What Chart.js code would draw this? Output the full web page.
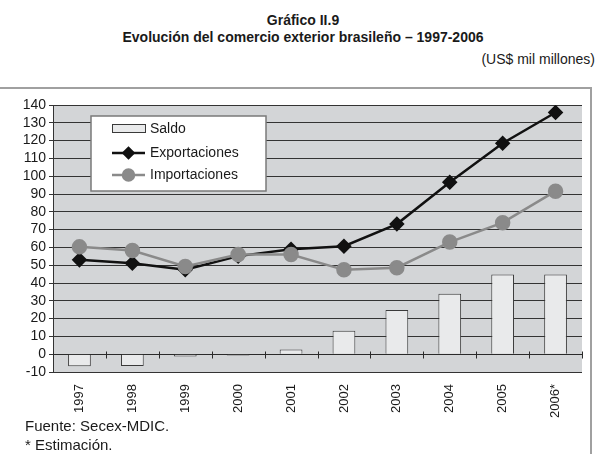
<!DOCTYPE html>
<html lang="es">
<head>
    <meta charset="UTF-8">
    <title>Evolución del comercio exterior brasileño</title>
    <style>
        body {
            margin: 0;
            padding: 0;
            background: #fff;
            font-family: "Liberation Sans", Arial, sans-serif;
            color: #1a1a1a;
        }

        .page {
            position: relative;
            width: 599px;
            height: 454px;
            overflow: hidden;
        }

        .frame {
            position: absolute;
            top: 87px;
            left: -3px;
            width: 593px;
            height: 400px;
            border-top: 2px solid #a0a0a0;
            border-right: 2px solid #a0a0a0;
        }

        .title {
            position: absolute;
            left: 0;
            width: 606px;
            text-align: center;
            font-weight: bold;
            font-size: 14px;
            line-height: 16px;
        }

        .units {
            position: absolute;
            top: 51px;
            right: 4px;
            font-size: 14px;
            line-height: 16px;
        }

        .note {
            position: absolute;
            left: 25px;
            font-size: 15px;
            line-height: 16px;
        }

        canvas {
            position: absolute;
            top: 0;
            left: 0;
        }
    </style>
</head>
<body>

<div class="page">
    <div class="frame"></div>
    <div class="title" style="top: 12px;">Gráfico II.9</div>
    <div class="title" style="top: 29px;">Evolución del comercio exterior brasileño – 1997-2006</div>
    <div class="units">(US$ mil millones)</div>

    <canvas id="tradeChart" width="599" height="454"></canvas>

    <div class="note" style="top: 418px;">Fuente: Secex-MDIC.</div>
    <div class="note" style="top: 437px;">* Estimación.</div>
</div>

<script src="https://cdn.jsdelivr.net/npm/chart.js"></script>
<script>
    // values (US$ bn)
    const years = ['1997', '1998', '1999', '2000', '2001', '2002', '2003', '2004', '2005', '2006*'];
    const saldo = [-6.8, -6.6, -1.3, -0.7, 2.6, 13.2, 24.8, 33.9, 44.8, 44.8];
    const exportaciones = [53.0, 51.1, 47.5, 55.1, 59.0, 60.7, 73.1, 96.6, 118.5, 135.8];
    const importaciones = [60.3, 58.2, 49.3, 56.0, 56.0, 47.4, 48.6, 63.0, 73.9, 91.6];
    const yMin = -10, yMax = 140, yStep = 10;

    // gray plot background, zero axis with category ticks
    const plotArea = {
        id: 'plotArea',
        beforeDraw(chart) {
            const { ctx, chartArea: a } = chart;
            ctx.save();
            ctx.fillStyle = '#d3d5d7';
            ctx.fillRect(a.left, a.top, a.right - a.left, a.bottom - a.top);
            ctx.restore();
        },
        beforeDatasetsDraw(chart) {
            const { ctx, chartArea: a, scales } = chart;
            const y0 = Math.round(scales.y.getPixelForValue(0)) + 0.5;
            const step = scales.x.getPixelForValue(1) - scales.x.getPixelForValue(0);
            ctx.save();
            ctx.strokeStyle = '#2a2a2a';
            ctx.lineWidth = 1;
            ctx.beginPath();
            ctx.moveTo(a.left, y0);
            ctx.lineTo(a.right, y0);
            for (let i = 0; i <= years.length; i++) {
                const x = Math.round(scales.x.getPixelForValue(i) - step / 2) + 0.5;
                ctx.moveTo(x, y0 - 3);
                ctx.lineTo(x, y0 + 4);
            }
            ctx.stroke();
            ctx.restore();
        }
    };

    // legend box inside the plot
    const boxLegend = {
        id: 'boxLegend',
        afterDraw(chart) {
            const { ctx } = chart;
            const bx = 91, by = 116, bw = 175, bh = 75;
            ctx.save();
            ctx.fillStyle = '#fff';
            ctx.fillRect(bx, by, bw, bh);
            ctx.strokeStyle = '#7a7a7a';
            ctx.lineWidth = 1.5;
            ctx.strokeRect(bx, by, bw, bh);

            const items = chart.data.datasets;
            const rows = [129, 153, 175];
            ctx.font = '14px "Liberation Sans", Arial, sans-serif';
            ctx.textBaseline = 'middle';
            items.forEach((ds, i) => {
                const y = rows[i];
                if (ds.type === 'bar') {
                    ctx.fillStyle = ds.backgroundColor;
                    ctx.fillRect(112.5, y - 4.5, 33, 8);
                    ctx.strokeStyle = '#3a3a3a';
                    ctx.lineWidth = 1;
                    ctx.strokeRect(112.5, y - 4.5, 33, 8);
                } else {
                    ctx.strokeStyle = ds.borderColor;
                    ctx.lineWidth = ds.borderWidth;
                    ctx.beginPath();
                    ctx.moveTo(112, y);
                    ctx.lineTo(145, y);
                    ctx.stroke();
                    Chart.helpers.drawPoint(ctx, {
                        pointStyle: ds.pointStyle,
                        radius: ds.pointRadius - 1,
                        borderWidth: 1
                    }, 128.5, y);
                    ctx.fillStyle = ds.pointBackgroundColor;
                    ctx.fill();
                }
                ctx.fillStyle = '#1a1a1a';
                ctx.fillText(ds.label, 150, y);
            });
            ctx.restore();
        }
    };

    const ctx = document.getElementById('tradeChart').getContext('2d');
    const tradeChart = new Chart(ctx, {
        data: {
            labels: years,
            datasets: [{
                type: 'bar',
                label: 'Saldo',
                data: saldo,
                backgroundColor: '#e9eaeb',
                borderColor: '#3a3a3a',
                borderWidth: 1,
                barPercentage: 0.43,
                categoryPercentage: 1.0,
                order: 3
            }, {
                type: 'line',
                label: 'Exportaciones',
                data: exportaciones,
                borderColor: '#111',
                borderWidth: 2.5,
                pointStyle: 'rectRot',
                pointRadius: 6,
                pointBackgroundColor: '#111',
                pointBorderColor: '#111',
                tension: 0,
                order: 2
            }, {
                type: 'line',
                label: 'Importaciones',
                data: importaciones,
                borderColor: '#8a8a8a',
                borderWidth: 2.5,
                pointStyle: 'circle',
                pointRadius: 6.5,
                pointBackgroundColor: '#8a8a8a',
                pointBorderColor: '#8a8a8a',
                tension: 0,
                order: 1
            }]
        },
        options: {
            responsive: false,
            animation: false,
            devicePixelRatio: 1,
            layout: {
                padding: { top: 105, right: 17, left: 0, bottom: 0 }
            },
            plugins: {
                legend: { display: false },
                tooltip: { enabled: false }
            },
            scales: {
                x: {
                    offset: true,
                    grid: { display: false },
                    border: { display: false },
                    ticks: {
                        minRotation: 90,
                        maxRotation: 90,
                        padding: 4,
                        color: '#1a1a1a',
                        font: { family: '"Liberation Sans", Arial, sans-serif', size: 13 }
                    },
                    afterFit(scale) { scale.height = 82; }
                },
                y: {
                    min: yMin,
                    max: yMax,
                    ticks: {
                        stepSize: yStep,
                        autoSkip: false,
                        padding: 3,
                        color: '#1a1a1a',
                        font: { family: '"Liberation Sans", Arial, sans-serif', size: 14 }
                    },
                    grid: {
                        color: '#333',
                        lineWidth: 1,
                        tickLength: 4
                    },
                    border: { display: true, color: '#333', width: 1 },
                    afterFit(scale) { scale.width = 53; }
                }
            }
        },
        plugins: [plotArea, boxLegend]
    });
</script>
</body>
</html>
